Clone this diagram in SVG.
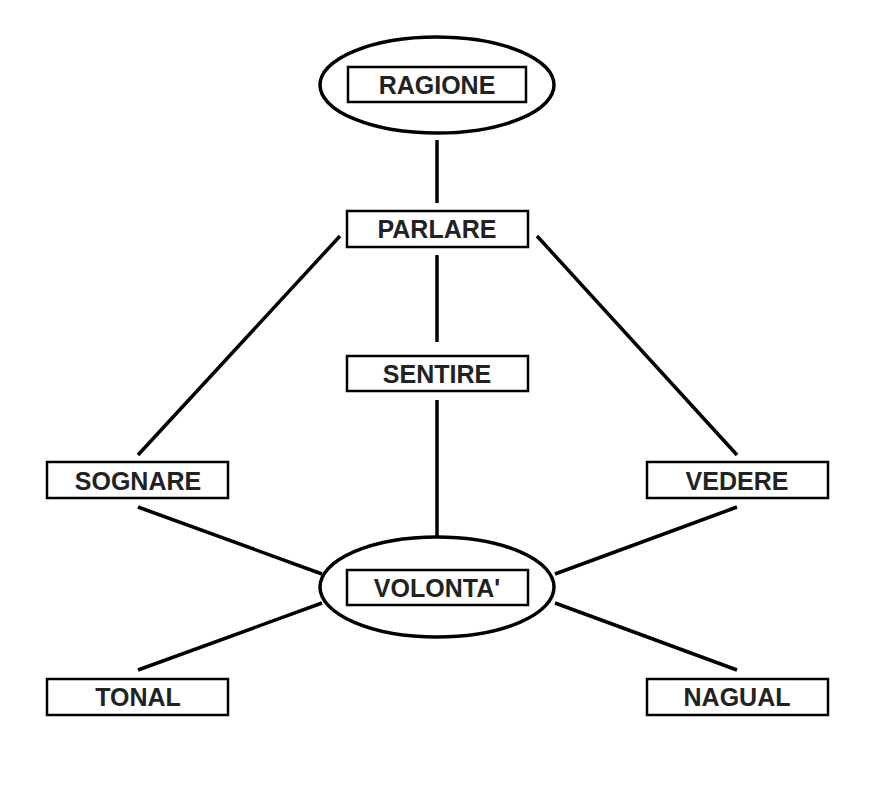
<svg xmlns="http://www.w3.org/2000/svg" width="876" height="785" viewBox="0 0 876 785">
<style>
.b{fill:#fff;stroke:#000;stroke-width:2.5}
.e{fill:#fff;stroke:#000;stroke-width:3.5}
.t{font-family:"Liberation Sans",Arial,sans-serif;font-weight:bold;font-size:25px;text-anchor:middle;fill:#222}
#edges line{stroke:#000;stroke-width:3.5}
</style>
<rect width="876" height="785" fill="#fff"/>
<g id="edges">
<line x1="437" y1="140" x2="437" y2="203"/>
<line x1="437" y1="255" x2="437" y2="342"/>
<line x1="437" y1="400" x2="437" y2="536"/>
<line x1="340" y1="236" x2="138" y2="455"/>
<line x1="537" y1="236" x2="737" y2="455"/>
<line x1="138" y1="507" x2="322" y2="574"/>
<line x1="737" y1="507" x2="555" y2="574"/>
<line x1="322" y1="603" x2="138" y2="670"/>
<line x1="555" y1="603" x2="737" y2="670"/>
</g>
<g id="ragione"><ellipse class="e" cx="437" cy="85" rx="117" ry="48"/><rect class="b" x="348" y="67" width="178" height="35"/><text class="t" x="437" y="94">RAGIONE</text></g>
<g id="parlare"><rect class="b" x="347" y="211" width="181" height="36"/><text class="t" x="437" y="238">PARLARE</text></g>
<g id="sentire"><rect class="b" x="347" y="356" width="181" height="35"/><text class="t" x="437" y="383">SENTIRE</text></g>
<g id="sognare"><rect class="b" x="47" y="462" width="181" height="36"/><text class="t" x="138" y="490">SOGNARE</text></g>
<g id="vedere"><rect class="b" x="647" y="462" width="181" height="36"/><text class="t" x="737" y="490">VEDERE</text></g>
<g id="volonta"><ellipse class="e" cx="437" cy="587" rx="117" ry="50"/><rect class="b" x="347" y="570" width="181" height="35"/><text class="t" x="437" y="597">VOLONTA'</text></g>
<g id="tonal"><rect class="b" x="47" y="679" width="181" height="36"/><text class="t" x="138" y="706">TONAL</text></g>
<g id="nagual"><rect class="b" x="647" y="679" width="181" height="36"/><text class="t" x="737" y="706">NAGUAL</text></g>
</svg>
